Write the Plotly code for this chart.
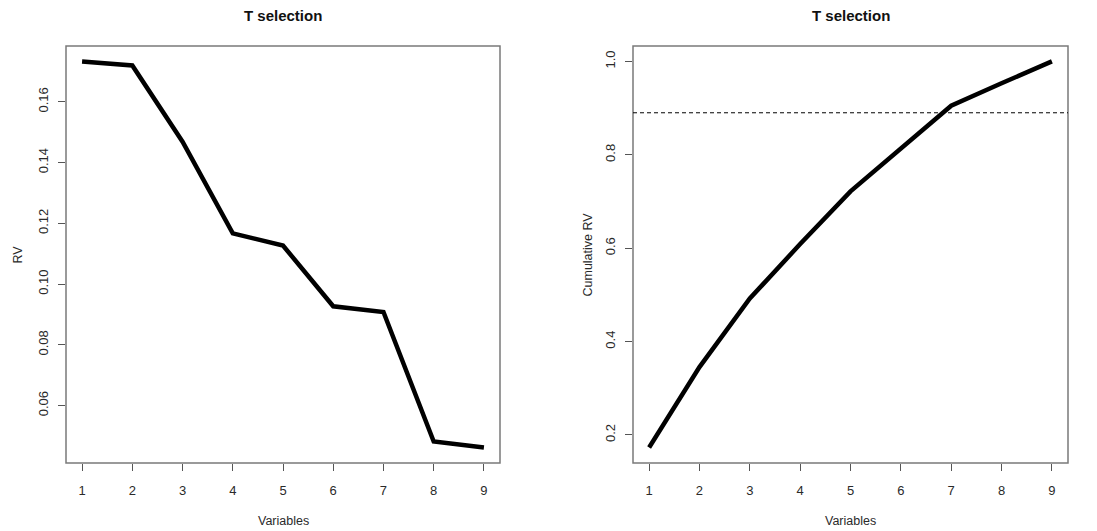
import plotly.graph_objects as go

# Variables ranked by their RV contribution
variables = [1, 2, 3, 4, 5, 6, 7, 8, 9]
rv = [0.1733, 0.1720, 0.1469, 0.1167, 0.1127, 0.0927, 0.0908, 0.0482, 0.0462]
cumulative_rv = [0.1733, 0.3453, 0.4922, 0.6089, 0.7216, 0.8143, 0.9051, 0.9533, 1.0]
threshold = 0.89

left_ticks = [0.06, 0.08, 0.10, 0.12, 0.14, 0.16]
right_ticks = [0.2, 0.4, 0.6, 0.8, 1.0]

W, H = 1097, 531
FONT = "Liberation Sans, Arial, sans-serif"
FRAME = "#7a7a7a"
TEXT = "#2a2a2a"

# panel boxes in pixels (left, right, top, bottom)
left_box = (66, 500, 46, 463)
right_box = (633, 1068, 46, 463)


def px_x(v):
    return v / W


def px_y(v):
    return 1 - v / H


fig = go.Figure()

fig.add_trace(go.Scatter(x=variables, y=rv, mode="lines",
                         line=dict(color="black", width=4.5),
                         xaxis="x", yaxis="y", showlegend=False))
fig.add_trace(go.Scatter(x=variables, y=cumulative_rv, mode="lines",
                         line=dict(color="black", width=4.5),
                         xaxis="x2", yaxis="y2", showlegend=False))


def xaxis_cfg(box):
    return dict(domain=[px_x(box[0]), px_x(box[1])], range=[0.68, 9.32],
                tickmode="array", tickvals=variables,
                ticktext=[str(v) for v in variables],
                ticks="outside", ticklen=7, tickcolor="#555", tickwidth=1,
                showgrid=False, zeroline=False, showline=False,
                ticklabelstandoff=8,
                tickfont=dict(family=FONT, size=13, color=TEXT))


def yaxis_cfg(box, rng, ticks, fmt):
    return dict(domain=[px_y(box[3]), px_y(box[2])], range=rng,
                tickmode="array", tickvals=ticks,
                ticktext=[fmt.format(t) for t in ticks],
                ticks="outside", ticklen=7, tickcolor="#555", tickwidth=1,
                tickangle=-90, showgrid=False, zeroline=False, showline=False,
                ticklabelstandoff=5,
                tickfont=dict(family=FONT, size=13, color=TEXT))


fig.update_layout(
    width=W, height=H,
    margin=dict(l=0, r=0, t=0, b=0),
    paper_bgcolor="white", plot_bgcolor="white",
    xaxis=dict(**xaxis_cfg(left_box), anchor="y"),
    yaxis=dict(**yaxis_cfg(left_box, [0.0411, 0.1784], left_ticks, "{:.2f}"), anchor="x"),
    xaxis2=dict(**xaxis_cfg(right_box), anchor="y2"),
    yaxis2=dict(**yaxis_cfg(right_box, [0.140, 1.033], right_ticks, "{:.1f}"), anchor="x2"),
)

# panel frames
for xr, yr in (("x domain", "y domain"), ("x2 domain", "y2 domain")):
    fig.add_shape(type="rect", xref=xr, yref=yr, x0=0, x1=1, y0=0, y1=1,
                  line=dict(color=FRAME, width=1.5), layer="below")

# cut-off on the cumulative panel
fig.add_shape(type="line", xref="x2 domain", yref="y2", x0=0, x1=1,
              y0=threshold, y1=threshold,
              line=dict(color="black", width=1, dash="4px,3px"))


def label(text, x, y, size, angle=0, color=TEXT):
    fig.add_annotation(text=text, x=px_x(x), y=px_y(y),
                       xref="paper", yref="paper", showarrow=False,
                       xanchor="center", yanchor="middle", textangle=angle,
                       font=dict(family=FONT, size=size, color=color))


# titles and axis labels
for box in (left_box, right_box):
    cx = (box[0] + box[1]) / 2
    label("<b>T selection</b>", cx, 16, 15, color="#111")
    label("Variables", cx, 521, 12.5)

label("RV", 17, (left_box[2] + left_box[3]) / 2, 12.5, angle=-90)
label("Cumulative RV", 587, (right_box[2] + right_box[3]) / 2, 12.5, angle=-90)

fig.write_html("out.html")
